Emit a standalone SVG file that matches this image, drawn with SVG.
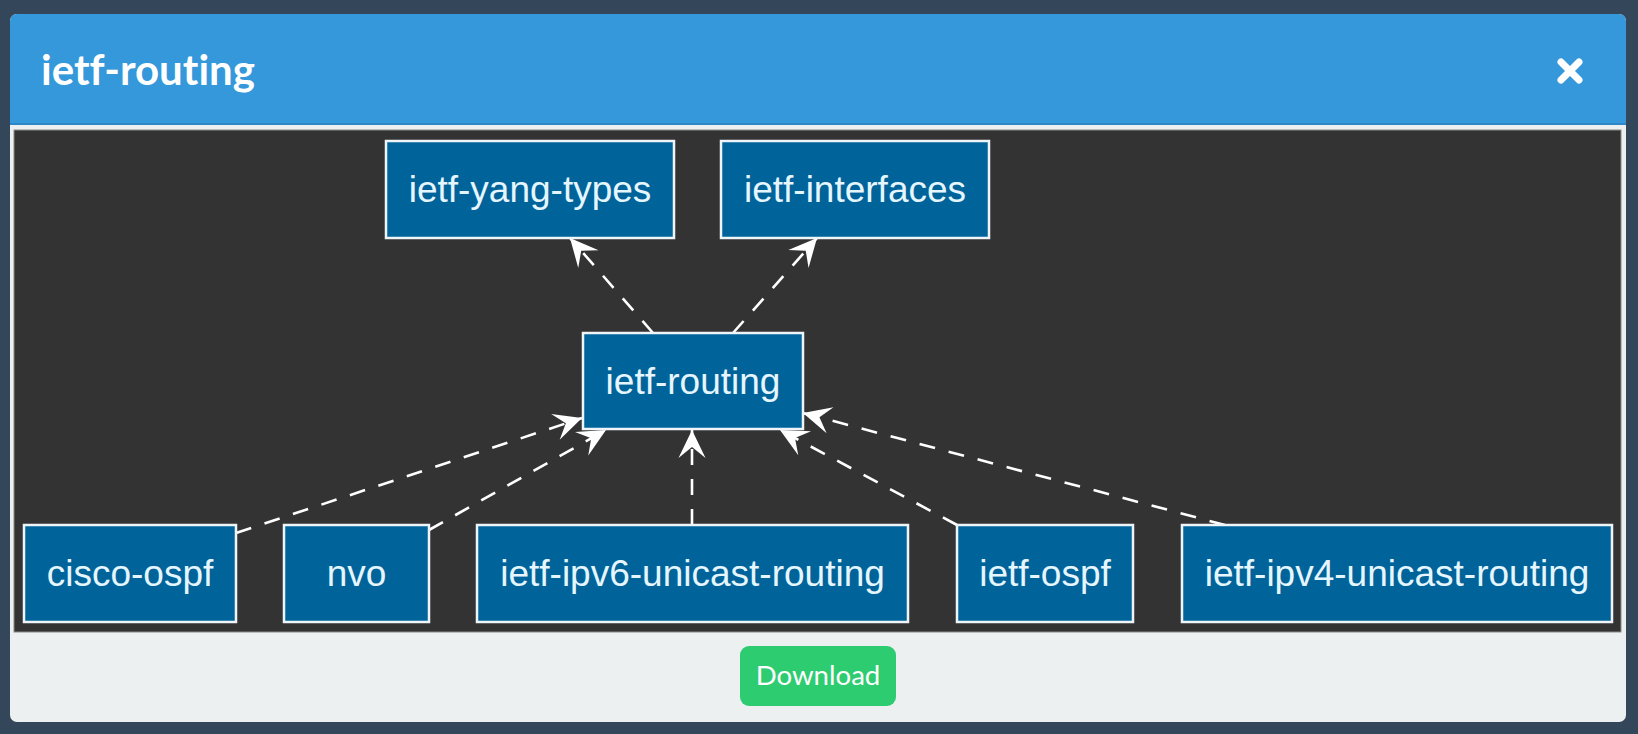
<svg xmlns="http://www.w3.org/2000/svg" width="1638" height="734" viewBox="0 0 1638 734">
<style>
.node rect{fill:#00649a;stroke:#eef4f8;stroke-width:2.5}
.node text{font-family:"Liberation Sans",Arial,sans-serif;font-size:37px;fill:#e6f6ff;text-anchor:middle}
.edge{stroke:#ffffff;stroke-width:2.6;stroke-dasharray:16,14;fill:none}
</style>
<defs>
<marker id="vee" markerUnits="userSpaceOnUse" viewBox="-30 -15 32 30" refX="0" refY="0" markerWidth="32" markerHeight="30" orient="auto">
<path d="M0,0 L-28,-13.5 L-17,0 L-28,13.5 Z" fill="#ffffff"/>
</marker>
</defs>
<rect x="0" y="0" width="1638" height="734" fill="#33465a"/>
<g id="card">
<rect x="10" y="14" width="1616" height="708" rx="7" fill="#ecf0f1"/>
<path d="M10,123 V21 a7,7 0 0 1 7,-7 H1619 a7,7 0 0 1 7,7 V123 Z" fill="#3498db"/>
<rect x="10" y="123" width="1616" height="2" fill="#2e86c6"/>
<text x="41" y="85" font-family="Lato,'Open Sans',sans-serif" font-weight="bold" font-size="42" fill="#ffffff" style="font-variant-ligatures:none">ietf-routing</text>
<g id="close" stroke="#ffffff" stroke-width="7" stroke-linecap="round">
<line x1="1561" y1="62" x2="1579" y2="80"/>
<line x1="1579" y1="62" x2="1561" y2="80"/>
</g>
<rect x="14" y="130" width="1607" height="502" fill="#333333" stroke="#8a8a8a" stroke-width="1"/>
<g id="download">
<rect x="740" y="646" width="156" height="60" rx="9" fill="#2ecc71"/>
<text x="818" y="685" font-family="Lato,'Open Sans',sans-serif" font-size="27.6" fill="#ffffff" text-anchor="middle">Download</text>
</g>
</g>
<g id="connectors">
<line class="edge" x1="653" y1="333" x2="570" y2="238" marker-end="url(#vee)"/>
<line class="edge" x1="733" y1="333" x2="817" y2="238" marker-end="url(#vee)"/>
<line class="edge" x1="236" y1="533" x2="582" y2="418" marker-end="url(#vee)"/>
<line class="edge" x1="429" y1="530" x2="606" y2="430" marker-end="url(#vee)"/>
<line class="edge" x1="692" y1="525" x2="692" y2="430" marker-end="url(#vee)"/>
<line class="edge" x1="957" y1="525" x2="780" y2="430" marker-end="url(#vee)"/>
<line class="edge" x1="1225" y1="525" x2="803" y2="413" marker-end="url(#vee)"/>
</g>
<g id="n-yang" class="node"><rect x="386" y="141" width="288" height="97"/><text x="530" y="202">ietf-yang-types</text></g>
<g id="n-interfaces" class="node"><rect x="721" y="141" width="268" height="97"/><text x="855" y="202">ietf-interfaces</text></g>
<g id="n-routing" class="node"><rect x="583" y="333" width="220" height="96"/><text x="693" y="394">ietf-routing</text></g>
<g id="n-cisco" class="node"><rect x="24" y="525" width="212" height="97"/><text x="130" y="586">cisco-ospf</text></g>
<g id="n-nvo" class="node"><rect x="284" y="525" width="145" height="97"/><text x="356.5" y="586">nvo</text></g>
<g id="n-ipv6" class="node"><rect x="477" y="525" width="431" height="97"/><text x="692.5" y="586">ietf-ipv6-unicast-routing</text></g>
<g id="n-ospf" class="node"><rect x="957" y="525" width="176" height="97"/><text x="1045" y="586">ietf-ospf</text></g>
<g id="n-ipv4" class="node"><rect x="1182" y="525" width="430" height="97"/><text x="1397" y="586">ietf-ipv4-unicast-routing</text></g>
</svg>
